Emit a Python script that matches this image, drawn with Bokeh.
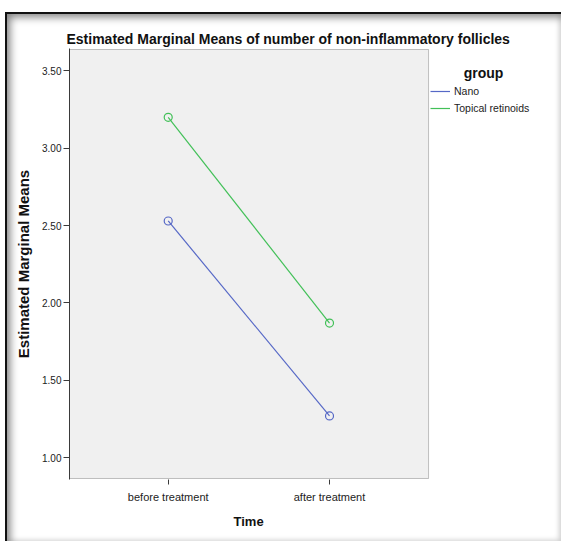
from bokeh.plotting import figure
from bokeh.models import (Range1d, Legend, LegendItem, Label, BoxAnnotation,
                          FixedTicker, ColumnDataSource, Title)
from bokeh.embed import file_html
from bokeh.resources import INLINE

# ---- data ----
times = ["before treatment", "after treatment"]
nano = [2.53, 1.27]
topical = [3.20, 1.87]
groups = ["Nano", "Topical retinoids"]
y_ticks = [1.0, 1.5, 2.0, 2.5, 3.0, 3.5]
y_tick_labels = ["1.00", "1.50", "2.00", "2.50", "3.00", "3.50"]
title_text = "Estimated Marginal Means of number of non-inflammatory follicles"
legend_title = "group"
x_title = "Time"
y_title = "Estimated Marginal Means"

FONT = "Liberation Sans"
BLUE = "#5668c6"
GREEN = "#42c058"
DARK = "#3a3a3a"

# x positions of the categories (1-based index)
xpos = [i + 1 for i in range(len(times))]

W, H = 556, 529
p = figure(width=W, height=H, output_backend="svg", toolbar_location=None,
           x_range=Range1d(0.388, 3.432),
           y_range=Range1d(0.8595, 3.6445),
           min_border_left=64, min_border_right=1,
           min_border_top=36, min_border_bottom=62)

p.background_fill_color = None
p.border_fill_color = None
p.outline_line_color = None
p.grid.visible = False
p.styles = {"margin-left": "5px", "margin-top": "12px",
            "background": "white",
            "box-shadow": ("inset 2px 2px 0 0 #111, "
                           "inset 10px 10px 8px -5px #808080, "
                           "inset -5px -4px 5px -3px #d0d0d0")}

# main title (above the frame)
p.title.text = title_text
p.title.align = "left"
p.title.offset = -3
p.title.standoff = 4
p.title.text_font = FONT
p.title.text_font_size = "14px"
p.title.text_font_style = "bold"
p.title.text_color = "#111111"

# plot area (grey panel with dark outline)
p.add_layout(BoxAnnotation(left=0.388, right=2.614, bottom=0.866, top=3.638,
                           fill_color="#f0f0f0", fill_alpha=1,
                           line_color=DARK, line_width=1, level="underlay"))

src_n = ColumnDataSource(dict(x=xpos, y=nano))
src_t = ColumnDataSource(dict(x=xpos, y=topical))
ln = p.line("x", "y", source=src_n, line_color=BLUE, line_width=1.2)
p.scatter("x", "y", source=src_n, marker="circle", size=8,
          fill_color=None, line_color=BLUE, line_width=1.2)
lt = p.line("x", "y", source=src_t, line_color=GREEN, line_width=1.2)
p.scatter("x", "y", source=src_t, marker="circle", size=8,
          fill_color=None, line_color=GREEN, line_width=1.2)

# axes
for ax in (p.xaxis[0], p.yaxis[0]):
    ax.major_tick_line_color = DARK
    ax.minor_tick_line_color = None
    ax.major_tick_in = 0
    ax.major_label_text_font = FONT
    ax.major_label_text_color = "#222222"

p.xaxis.axis_line_color = None
p.yaxis.axis_line_color = DARK

p.yaxis.ticker = FixedTicker(ticks=y_ticks)
p.yaxis.major_label_overrides = dict(zip(y_ticks, y_tick_labels))
p.yaxis.major_tick_out = 6
p.yaxis.major_label_standoff = 2
p.yaxis.major_label_text_font_size = "10px"
p.yaxis.axis_label = y_title
p.yaxis.axis_label_text_font = FONT
p.yaxis.axis_label_text_font_style = "bold"
p.yaxis.axis_label_text_font_size = "15px"
p.yaxis.axis_label_text_color = "#111111"
p.yaxis.axis_label_standoff = 7

p.xaxis.ticker = FixedTicker(ticks=xpos)
p.xaxis.major_label_overrides = dict(zip(xpos, times))
p.xaxis.major_tick_out = 5
p.xaxis.major_label_standoff = 6
p.xaxis.major_label_text_font_size = "11px"

# x axis title (below the axis)
p.add_layout(Title(text=x_title, align="left", offset=164, standoff=13,
                   text_font=FONT, text_font_size="13px",
                   text_font_style="bold", text_color="#111111"), "below")

# legend title (screen units from frame bottom-left)
p.add_layout(Label(x=414, y=407, x_units="screen", y_units="screen",
                   text=legend_title, text_align="center",
                   text_baseline="alphabetic", text_font=FONT,
                   text_font_size="14px", text_font_style="bold",
                   text_color="#111111"))

legend = Legend(items=[LegendItem(label=groups[0], renderers=[ln]),
                       LegendItem(label=groups[1], renderers=[lt])],
                location=(361, 363), padding=0, margin=0, spacing=1,
                glyph_width=20, glyph_height=16, label_height=16,
                label_standoff=4, label_text_font=FONT,
                label_text_font_size="10.5px", label_text_color="#222222",
                background_fill_alpha=0, border_line_color=None)
p.add_layout(legend, "center")

open("out.html", "w").write(file_html(p, INLINE))
